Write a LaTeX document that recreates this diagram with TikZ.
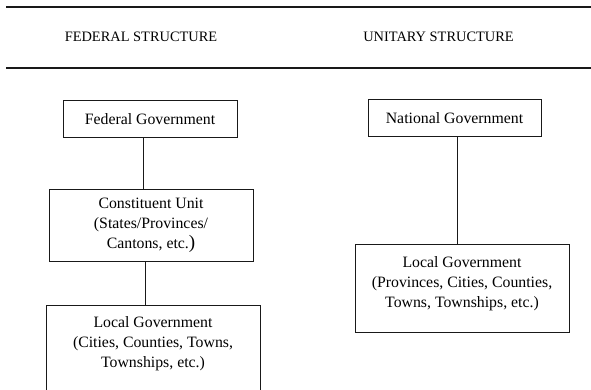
\documentclass[tikz,border=0pt]{standalone}
\usepackage{fontspec}
\setmainfont{Liberation Serif}
\begin{document}
\begin{tikzpicture}[x=1pt,y=-1pt,
  rule/.style={line width=1.2pt,draw=black!90},
  govbox/.style={draw=black!90,line width=1pt,inner sep=0pt,align=center},
  conn/.style={draw=black!90,line width=1pt},
  txt/.style={inner sep=0pt,align=center,font=\fontsize{15.8}{20}\selectfont},
  ttl/.style={inner sep=0pt,font=\fontsize{14.4}{17}\selectfont}]
\clip (0,0) rectangle (591,390);
\useasboundingbox (0,0) rectangle (591,390);
% header rules and titles
\coordinate (r1a) at (6,7);  \coordinate (r1b) at (591,7);
\coordinate (r2a) at (6,68); \coordinate (r2b) at (591,68);
\draw[rule] (r1a) -- (r1b);
\draw[rule] (r2a) -- (r2b);
\node[ttl] (tf) at (141,37) {FEDERAL STRUCTURE};
\node[ttl] (tu) at (438.5,37) {UNITARY STRUCTURE};
% federal
\node[govbox,minimum width=174pt,minimum height=37pt] (fed) at (150,119.5) {};
\node[txt] (fedt) at (fed.center) {Federal Government};
\node[govbox,minimum width=204pt,minimum height=72pt] (con) at (151,225) {};
\node[txt] (cont) at (con.center) {Constituent Unit\\(States/Provinces/\\Cantons, etc.{\fontsize{19}{19.5}\selectfont)}};
\node[govbox,minimum width=214pt,minimum height=120pt,anchor=north] (loc1) at (153,304.5) {};
\node[txt,anchor=north] (loc1t) at ([yshift=-12]loc1.north) {Local Government\\(Cities, Counties, Towns,\\Townships, etc.)};
\draw[conn] ([xshift=-7]fed.south) -- ([xshift=-8]con.north);
\draw[conn] ([xshift=-6]con.south) -- ([xshift=-8]loc1.north);
% unitary
\node[govbox,minimum width=173pt,minimum height=37pt] (nat) at (454.5,118.5) {};
\node[txt] (natt) at (nat.center) {National Government};
\node[govbox,minimum width=214pt,minimum height=88pt] (loc2) at (462,288) {};
\node[txt,anchor=north] (loc2t) at ([yshift=-13]loc2.north) {Local Government\\(Provinces, Cities, Counties,\\Towns, Townships, etc.)};
\draw[conn] ([xshift=2.5]nat.south) -- ([xshift=-5]loc2.north);
\end{tikzpicture}
\end{document}
